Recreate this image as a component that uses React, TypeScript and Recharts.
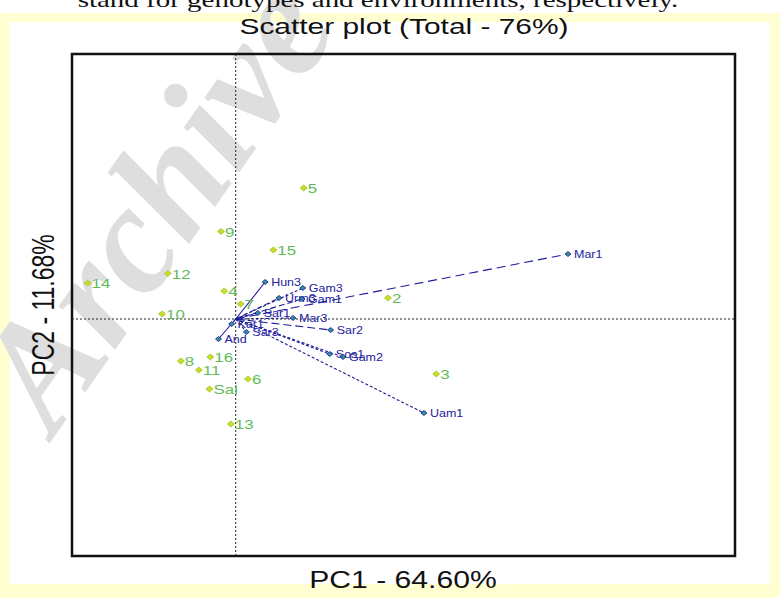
import { ScatterChart, Scatter, XAxis, YAxis, ReferenceLine, ReferenceArea } from 'recharts'

// genotypes (green diamonds)
const genotypeLabels = ['5', '9', '15', '12', '14', '4', '7', '10', '2', '16', '8', '11', '6', 'Sai', '13', '3']
const genotypePc1 = [0.83, -0.18, 0.46, -0.83, -1.81, -0.14, 0.06, -0.9, 1.86, -0.31, -0.67, -0.45, 0.15, -0.32, -0.06, 2.45]
const genotypePc2 = [1.31, 0.875, 0.69, 0.455, 0.36, 0.28, 0.15, 0.05, 0.21, -0.38, -0.42, -0.51, -0.6, -0.7, -1.05, -0.55]

// environments (blue vectors from the origin)
const envLabels = ['Mar1', 'Uam1', 'Hun3', 'Gam3', 'Urm3', 'Gam1', 'Mar3', 'Sar2', 'Sos1', 'Gam2', 'And', 'Sar3', 'Sar1', 'Kar1']
const envPc1 = [4.06, 2.3, 0.36, 0.82, 0.53, 0.81, 0.7, 1.16, 1.15, 1.31, -0.21, 0.13, 0.27, -0.05]
const envPc2 = [0.65, -0.94, 0.37, 0.31, 0.21, 0.2, 0.01, -0.11, -0.35, -0.38, -0.2, -0.13, 0.06, -0.05]

const xDomain = [-2, 6.1]
const yDomain = [-2.37, 2.65]

const dashFor: Record<string, string> = {
  Mar1: '9 5',
  Sar2: '8 4',
  Gam1: '6 3',
  Hun3: '0',
  And: '0',
  Urm3: '5 3',
}

const genotypes = genotypeLabels.map((name, i) => ({ name, x: genotypePc1[i], y: genotypePc2[i] }))
const environments = envLabels.map((name, i) => ({ name, x: envPc1[i], y: envPc2[i] }))

const GenoMark = (props: any) => {
  const { cx, cy, payload } = props
  if (cx == null || cy == null) return null
  return (
    <g>
      <path
        d={`M${cx - 3.5},${cy} L${cx},${cy - 3} L${cx + 3.5},${cy} L${cx},${cy + 3} Z`}
        fill="#c9df1f"
        stroke="#9cc23a"
        strokeWidth={0.8}
      />
      <text
        transform={`translate(${cx + 4},${cy + 5}) scale(1.3,1)`}
        fontFamily="Liberation Sans, Arial, sans-serif"
        fontSize={13}
        fill="#62bb58"
      >
        {payload.name}
      </text>
    </g>
  )
}

const EnvMark = (props: any) => {
  const { cx, cy, payload } = props
  if (cx == null || cy == null) return null
  return (
    <g>
      <path
        d={`M${cx - 3},${cy} L${cx},${cy - 2.5} L${cx + 3},${cy} L${cx},${cy + 2.5} Z`}
        fill="#2f8ea0"
        stroke="#1a1a8c"
        strokeWidth={0.8}
      />
      <text
        transform={`translate(${cx + 6},${cy + 4}) scale(1.25,1)`}
        fontFamily="Liberation Sans, Arial, sans-serif"
        fontSize={10}
        fill="#2222a0"
      >
        {payload.name}
      </text>
    </g>
  )
}

export default function App() {
  return (
    <div style={{ position: 'absolute', left: 0, top: 0, width: 780, height: 598, background: '#ffffd2', overflow: 'hidden' }}>
      {/* white paper area */}
      <div style={{ position: 'absolute', left: 10, top: 22, width: 760, height: 562, background: '#fff' }} />
      <div style={{ position: 'absolute', left: 0, top: 0, width: 780, height: 13, background: '#fff' }} />

      {/* watermark */}
      <svg width={780} height={598} style={{ position: 'absolute', left: 0, top: 0 }}>
        <text
          transform="translate(168,212) rotate(-55)"
          textAnchor="middle"
          dominantBaseline="middle"
          fontFamily="Liberation Serif, serif"
          fontStyle="italic"
          fontWeight="bold"
          fontSize={155}
          fill="#dedede"
        >
          Archive
        </text>
      </svg>

      <div style={{ position: 'absolute', left: 0, top: 0 }}>
        <ScatterChart width={780} height={598} margin={{ top: 54, right: 45, bottom: 42, left: 72 }}>
          <XAxis type="number" dataKey="x" domain={xDomain} hide allowDataOverflow />
          <YAxis type="number" dataKey="y" domain={yDomain} hide allowDataOverflow />
          <ReferenceLine x={0} stroke="#222" strokeDasharray="2 2" strokeWidth={1} />
          <ReferenceLine y={0} stroke="#222" strokeDasharray="2 2" strokeWidth={1} />
          {environments.map(e => (
            <ReferenceLine
              key={e.name}
              segment={[{ x: 0, y: 0 }, { x: e.x, y: e.y }]}
              stroke="#1c1c9a"
              strokeWidth={1.1}
              strokeDasharray={dashFor[e.name] ?? '3 2'}
            />
          ))}
          <ReferenceArea
            x1={xDomain[0]}
            x2={xDomain[1]}
            y1={yDomain[0]}
            y2={yDomain[1]}
            fill="none"
            fillOpacity={0}
            stroke="#111"
            strokeWidth={2.5}
          />
          <Scatter data={genotypes} shape={GenoMark} isAnimationActive={false} />
          <Scatter data={environments} shape={EnvMark} isAnimationActive={false} />
        </ScatterChart>
      </div>

      {/* titles */}
      <svg width={780} height={598} style={{ position: 'absolute', left: 0, top: 0, pointerEvents: 'none' }}>
        <text transform="translate(378,7) scale(1.38,1)" textAnchor="middle" fontFamily="Liberation Serif, serif" fontSize={21} fill="#111">
          stand for genotypes and environments, respectively.
        </text>
        <text transform="translate(404,34) scale(1.36,1)" textAnchor="middle" fontFamily="Liberation Sans, Arial, sans-serif" fontSize={22} fill="#111">
          Scatter plot (Total - 76%)
        </text>
        <text transform="translate(403,588) scale(1.31,1)" textAnchor="middle" fontFamily="Liberation Sans, Arial, sans-serif" fontSize={23} fill="#111">
          PC1 - 64.60%
        </text>
        <text transform="translate(54,305) scale(1.33,1) rotate(-90)" textAnchor="middle" fontFamily="Liberation Sans, Arial, sans-serif" fontSize={23} fill="#111">
          PC2 - 11.68%
        </text>
      </svg>
    </div>
  )
}
